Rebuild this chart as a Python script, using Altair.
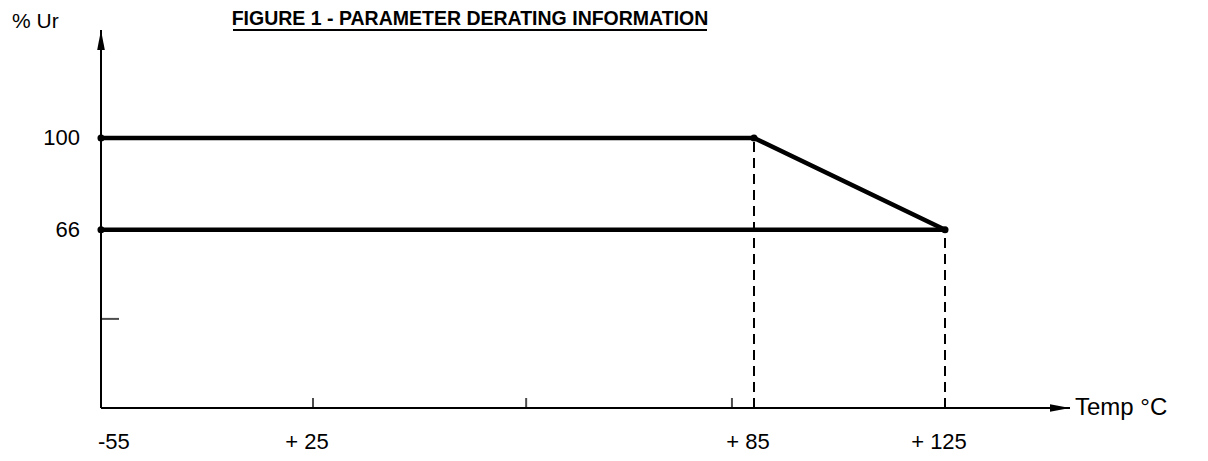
import altair as alt
import pandas as pd

# ---- data ----
upper_temp = [-55, 85, 125]
upper_ur = [100, 100, 66]
lower_temp = [-55, 125]
lower_ur = [66, 66]
dash_temp = [85, 125]
dash_top = [100, 66]
y_label_values = [100, 66]
y_minor_ticks = [33]
x_minor_ticks = [25, 54, 82]
x_label_values = [25, 85, 125]
x_label_texts = ["+ 25", "+ 85", "+ 125"]
x_first_value = -55
x_first_text = "-55"
title_text = "FIGURE 1 - PARAMETER DERATING INFORMATION"
y_title = "% Ur"
x_title = "Temp °C"

X_MIN, X_MAX = -55, 151
Y_MIN, Y_MAX = 0, 140
FONT = "Liberation Sans"
FS = 22

xs = alt.Scale(domain=[-55, 25, 85, 125, 151], range=[0, 212, 653, 844, 969],
               zero=False, nice=False)
ys = alt.Scale(domain=[Y_MIN, Y_MAX], zero=False, nice=False)

lines_df = pd.DataFrame(
    {"t": upper_temp + lower_temp,
     "u": upper_ur + lower_ur,
     "s": ["upper"] * len(upper_temp) + ["lower"] * len(lower_temp)}
)
verts_df = lines_df.drop_duplicates(subset=["t", "u"])
dash_df = pd.DataFrame({"t": dash_temp, "top": dash_top, "b": [0] * len(dash_temp)})
ylab_df = pd.DataFrame({"u": y_label_values, "t": [X_MIN] * len(y_label_values),
                        "lab": [str(v) for v in y_label_values]})
ytick_df = pd.DataFrame({"u": y_minor_ticks, "t": [X_MIN] * len(y_minor_ticks)})
xtick_df = pd.DataFrame({"t": x_minor_ticks, "u": [0] * len(x_minor_ticks)})
xlab_df = pd.DataFrame({"t": x_label_values, "u": [0] * len(x_label_values), "lab": x_label_texts})
xfirst_df = pd.DataFrame({"t": [x_first_value], "u": [0], "lab": [x_first_text]})
axes_df = pd.DataFrame({"t": [X_MIN], "t2": [X_MAX], "u": [Y_MIN], "u2": [Y_MAX]})

X = lambda f="t": alt.X(f"{f}:Q", scale=xs, axis=None)
Y = lambda f="u": alt.Y(f"{f}:Q", scale=ys, axis=None)

# axes lines
x_axis = alt.Chart(axes_df).mark_rule(color="black", strokeWidth=2).encode(
    x=X("t"), x2="t2:Q", y=Y("u"))
y_axis = alt.Chart(axes_df).mark_rule(color="black", strokeWidth=2).encode(
    x=X("t"), y=Y("u"), y2="u2:Q")
up_arrow = alt.Chart(axes_df).mark_point(
    shape="M0,0L0.38,2L-0.38,2Z", size=400, filled=True, color="black", opacity=1
).encode(x=X("t"), y=Y("u2"))
right_arrow = alt.Chart(axes_df).mark_point(
    shape="M0,0L-2,-0.38L-2,0.38Z", size=400, filled=True, color="black", opacity=1
).encode(x=X("t2"), y=Y("u"))

# ticks
ytick = alt.Chart(ytick_df).mark_tick(
    orient="horizontal", size=18, thickness=2, color="black", xOffset=9
).encode(x=X(), y=Y())
xtick = alt.Chart(xtick_df).mark_tick(
    orient="vertical", size=10, thickness=2, color="black", yOffset=-5
).encode(x=X(), y=Y())

# dashed verticals
dashes = alt.Chart(dash_df).mark_rule(
    color="black", strokeWidth=2, strokeDash=[10, 6]
).encode(x=X(), y=Y("b"), y2="top:Q")

# derating lines
lines = alt.Chart(lines_df).mark_line(color="black", strokeWidth=4.5).encode(
    x=X(), y=Y(), detail="s:N", order="t:Q")
verts = alt.Chart(verts_df).mark_circle(color="black", size=50, opacity=1).encode(
    x=X(), y=Y())

# labels
ylabs = alt.Chart(ylab_df).mark_text(
    align="right", baseline="middle", dx=-21, font=FONT, fontSize=FS, color="black"
).encode(x=X(), y=Y(), text="lab:N")
xlabs = alt.Chart(xlab_df).mark_text(
    align="center", baseline="middle", dx=-6, dy=34, font=FONT, fontSize=FS, color="black"
).encode(x=X(), y=Y(), text="lab:N")
xfirst = alt.Chart(xfirst_df).mark_text(
    align="left", baseline="middle", dx=-3, dy=34, font=FONT, fontSize=FS, color="black"
).encode(x=X(), y=Y(), text="lab:N")
ytitle = alt.Chart(axes_df).mark_text(
    align="left", baseline="middle", dx=-89, dy=-8, font=FONT, fontSize=21, color="black",
    text=y_title
).encode(x=X("t"), y=Y("u2"))
xtitle = alt.Chart(axes_df).mark_text(
    align="left", baseline="middle", dx=5, font=FONT, fontSize=24, color="black",
    text=x_title
).encode(x=X("t2"), y=Y("u"))
title = alt.Chart(axes_df).mark_text(
    align="center", baseline="middle", font=FONT, fontSize=19.5, fontWeight="bold",
    color="black", text=title_text
).encode(x=alt.value(369), y=alt.value(-11))
underline = alt.Chart(axes_df).mark_rule(color="black", strokeWidth=2).encode(
    x=alt.value(132), x2=alt.value(606), y=alt.value(0))

chart = alt.layer(
    x_axis, y_axis, up_arrow, right_arrow, ytick, xtick, dashes, lines, verts,
    ylabs, xlabs, xfirst, ytitle, xtitle, title, underline
).properties(
    width=969, height=378,
    autosize=alt.AutoSizeParams(type="none"),
    padding={"left": 93, "top": 22, "right": 130, "bottom": 45},
    background="white",
).configure_view(stroke=None)

chart.save("out.html", embed_options={"renderer": "svg", "actions": False})
